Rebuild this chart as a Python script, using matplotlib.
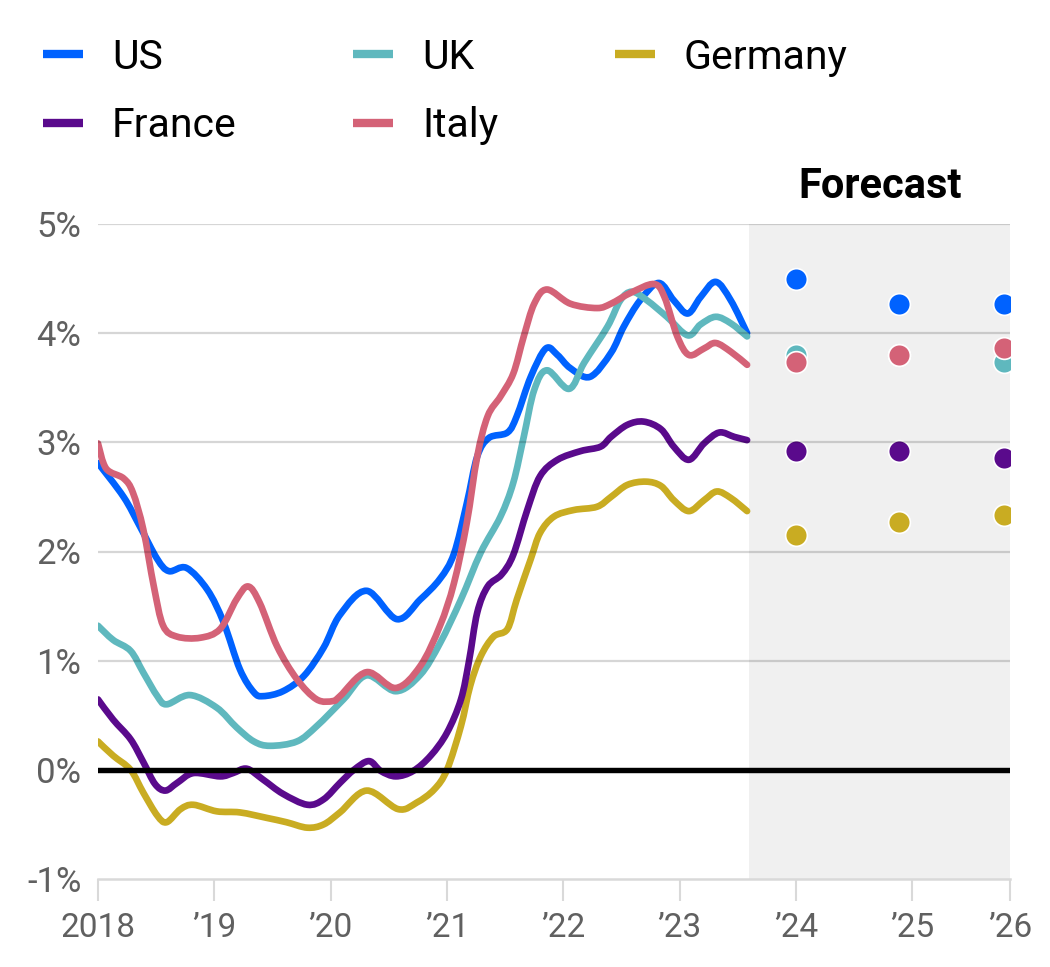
import matplotlib
matplotlib.use("Agg")
import matplotlib.pyplot as plt
from matplotlib.lines import Line2D
from matplotlib.path import Path
from matplotlib.patches import PathPatch

plt.rcParams['font.family'] = ['Roboto', 'DejaVu Sans']

# ---------------- data ----------------
us_dates = [2018.00, 2018.22, 2018.36, 2018.51, 2018.61, 2018.76, 2018.94, 2019.08, 2019.22, 2019.34,
            2019.42, 2019.59, 2019.77, 2019.94, 2020.08, 2020.31, 2020.57, 2020.77, 2020.94, 2021.06,
            2021.17, 2021.26, 2021.36, 2021.52, 2021.60, 2021.72, 2021.85, 2021.95, 2022.06, 2022.23,
            2022.41, 2022.52, 2022.66, 2022.82, 2022.95, 2023.07, 2023.18, 2023.31, 2023.44, 2023.58]
us_vals = [2.81, 2.50, 2.23, 1.93, 1.82, 1.85, 1.65, 1.35, 0.92, 0.71,
           0.675, 0.72, 0.86, 1.12, 1.42, 1.64, 1.38, 1.56, 1.75, 1.98,
           2.44, 2.87, 3.04, 3.09, 3.24, 3.60, 3.86, 3.80, 3.68, 3.60,
           3.82, 4.06, 4.30, 4.46, 4.30, 4.18, 4.33, 4.47, 4.30, 4.00]

uk_dates = [2018.00, 2018.13, 2018.28, 2018.39, 2018.51, 2018.59, 2018.79, 2019.02, 2019.19, 2019.34,
            2019.48, 2019.71, 2019.88, 2020.11, 2020.31, 2020.56, 2020.77, 2020.94, 2021.12, 2021.29,
            2021.46, 2021.57, 2021.66, 2021.75, 2021.86, 2022.05, 2022.18, 2022.38, 2022.49, 2022.59,
            2022.72, 2022.89, 2023.07, 2023.18, 2023.31, 2023.44, 2023.58]
uk_vals = [1.32, 1.19, 1.09, 0.89, 0.675, 0.60, 0.685, 0.57, 0.39, 0.26,
           0.22, 0.26, 0.40, 0.645, 0.865, 0.72, 0.87, 1.16, 1.56, 1.99,
           2.32, 2.63, 3.05, 3.48, 3.66, 3.49, 3.73, 4.06, 4.30, 4.38,
           4.30, 4.15, 3.98, 4.08, 4.15, 4.09, 3.97]

de_dates = [2018.00, 2018.13, 2018.28, 2018.39, 2018.51, 2018.59, 2018.71, 2018.82, 2019.02, 2019.22,
            2019.45, 2019.62, 2019.80, 2019.94, 2020.08, 2020.31, 2020.58, 2020.74, 2020.89, 2021.00,
            2021.12, 2021.20, 2021.29, 2021.40, 2021.52, 2021.60, 2021.72, 2021.80, 2021.92, 2022.09,
            2022.29, 2022.41, 2022.55, 2022.71, 2022.84, 2022.95, 2023.08, 2023.21, 2023.32, 2023.44,
            2023.58]
de_vals = [0.26, 0.13, 0.00, -0.21, -0.42, -0.48, -0.36, -0.32, -0.38, -0.39,
           -0.44, -0.48, -0.53, -0.50, -0.39, -0.19, -0.36, -0.30, -0.18, 0.00,
           0.40, 0.77, 1.04, 1.22, 1.29, 1.56, 1.93, 2.17, 2.32, 2.38,
           2.41, 2.50, 2.61, 2.64, 2.60, 2.47, 2.37, 2.47, 2.55, 2.49,
           2.37]

fr_dates = [2018.00, 2018.13, 2018.28, 2018.39, 2018.49, 2018.58, 2018.68, 2018.82, 2019.05, 2019.16,
            2019.28, 2019.42, 2019.59, 2019.80, 2019.94, 2020.08, 2020.20, 2020.33, 2020.43, 2020.56,
            2020.71, 2020.86, 2021.00, 2021.12, 2021.19, 2021.26, 2021.35, 2021.47, 2021.57, 2021.69,
            2021.80, 2021.95, 2022.15, 2022.32, 2022.41, 2022.55, 2022.69, 2022.84, 2022.95, 2023.08,
            2023.21, 2023.34, 2023.47, 2023.58]
fr_vals = [0.645, 0.46, 0.28, 0.07, -0.13, -0.19, -0.12, -0.03, -0.06, -0.03,
           0.01, -0.09, -0.22, -0.32, -0.27, -0.12, 0.00, 0.08, -0.01, -0.06,
           -0.01, 0.13, 0.34, 0.645, 1.00, 1.44, 1.68, 1.79, 1.97, 2.38,
           2.69, 2.84, 2.92, 2.96, 3.05, 3.16, 3.19, 3.12, 2.96, 2.84,
           2.99, 3.09, 3.05, 3.02]

it_dates = [2018.00, 2018.07, 2018.22, 2018.30, 2018.39, 2018.48, 2018.56, 2018.68, 2018.88, 2019.05,
            2019.19, 2019.29, 2019.39, 2019.54, 2019.71, 2019.88, 2020.02, 2020.08, 2020.31, 2020.56,
            2020.77, 2020.94, 2021.06, 2021.17, 2021.26, 2021.35, 2021.46, 2021.57, 2021.66, 2021.75,
            2021.86, 2022.06, 2022.29, 2022.41, 2022.58, 2022.78, 2022.87, 2022.98, 2023.08, 2023.21,
            2023.31, 2023.44, 2023.58]
it_vals = [2.99, 2.76, 2.67, 2.54, 2.20, 1.68, 1.32, 1.22, 1.21, 1.29,
           1.56, 1.68, 1.53, 1.13, 0.83, 0.645, 0.63, 0.675, 0.895, 0.75,
           0.95, 1.32, 1.71, 2.26, 2.87, 3.24, 3.42, 3.63, 3.97, 4.27,
           4.40, 4.27, 4.23, 4.27, 4.37, 4.45, 4.33, 3.97, 3.80, 3.86,
           3.91, 3.83, 3.71]

# forecasts
fc_dates = [2024.00, 2024.89, 2025.79]
us_fc = [4.50, 4.27, 4.27]
uk_fc = [3.80, 3.80, 3.74]
it_fc = [3.74, 3.80, 3.86]
fr_fc = [2.92, 2.92, 2.86]
de_fc = [2.15, 2.27, 2.33]

forecast_start = 2023.60
x_min, x_max = 2018.0, 2025.84
tick_pos = [2018, 2019, 2020, 2021, 2022, 2023, 2024, 2025, 2025.84]
tick_labels = ["2018", "\u201919", "\u201920", "\u201921", "\u201922", "\u201923", "\u201924", "\u201925", "\u201926"]
y_ticks = [-1, 0, 1, 2, 3, 4, 5]
y_labels = ["-1%", "0%", "1%", "2%", "3%", "4%", "5%"]

# ---------------- style ----------------
C_US = "#0062FF"
C_UK = "#5FB8BE"
C_DE = "#C9AC22"
C_FR = "#5A0A8C"
C_IT = "#D46277"
TXT = "#606060"


def smooth_path(xs, ys):
    """Catmull-Rom curve through the data points, as cubic Bezier path."""
    pts = list(zip(xs, ys))
    n = len(pts)
    verts = [pts[0]]
    codes = [Path.MOVETO]
    for i in range(n - 1):
        p0 = pts[i - 1] if i > 0 else pts[i]
        p1 = pts[i]
        p2 = pts[i + 1]
        p3 = pts[i + 2] if i + 2 < n else pts[i + 1]
        c1 = (p1[0] + (p2[0] - p0[0]) / 6, p1[1] + (p2[1] - p0[1]) / 6)
        c2 = (p2[0] - (p3[0] - p1[0]) / 6, p2[1] - (p3[1] - p1[1]) / 6)
        verts += [c1, c2, p2]
        codes += [Path.CURVE4] * 3
    return Path(verts, codes)


fig = plt.figure(figsize=(10.5, 9.67), dpi=100)
ax = fig.add_axes([98/1050, 88/967, 912/1050, 655/967])

ax.axvspan(forecast_start, x_max, color="#F0F0F0", zorder=0, lw=0)

series = [
    ("US", us_dates, us_vals, us_fc, C_US),
    ("UK", uk_dates, uk_vals, uk_fc, C_UK),
    ("Germany", de_dates, de_vals, de_fc, C_DE),
    ("France", fr_dates, fr_vals, fr_fc, C_FR),
    ("Italy", it_dates, it_vals, it_fc, C_IT),
]
lw = 4.8
for name, d, v, fc, c in series:
    patch = PathPatch(smooth_path(d, v), facecolor="none", edgecolor=c, lw=lw,
                      capstyle="round", joinstyle="round", zorder=3)
    ax.add_patch(patch)
for name, d, v, fc, c in series:
    ax.scatter(fc_dates, fc, s=245, color=c, edgecolor="white", linewidth=1.2, zorder=4)

for yv in y_ticks[2:]:
    ax.axhline(yv, color="black", alpha=0.16, lw=1.6, zorder=5)
ax.axhline(0, color="black", lw=3.9, zorder=6)

ax.set_xlim(x_min, x_max)
ax.set_ylim(-1, 5)
ax.set_xticks(tick_pos)
ax.set_xticklabels(tick_labels)
ax.set_yticks(y_ticks)
ax.set_yticklabels(y_labels)

for s in ["top", "right", "left"]:
    ax.spines[s].set_visible(False)
ax.spines["bottom"].set_color("#D9D9D9")
ax.spines["bottom"].set_linewidth(1.8)
ax.tick_params(axis="x", length=16, width=1.5, color="#D9D9D9", pad=8,
               labelsize=24, labelcolor=TXT)
ax.tick_params(axis="y", length=0, pad=12, labelsize=25, labelcolor=TXT)

ax.text((forecast_start + x_max) / 2, 1.058, "Forecast", transform=ax.get_xaxis_transform(),
        ha="center", va="center", fontsize=30, fontweight="bold", color="black")

handles = [Line2D([], [], color=c, lw=6, solid_capstyle="butt") for _, _, _, _, c in
           [series[0], series[3], series[1], series[4], series[2]]]
labels = ["US", "France", "UK", "Italy", "Germany"]
fig.legend(handles, labels, loc="upper left", bbox_to_anchor=(0.041, 0.961), ncol=3,
           frameon=False, fontsize=29.5, handlelength=0.97, handletextpad=0.71,
           columnspacing=2.85, labelspacing=0.72, borderpad=0, borderaxespad=0)

fig.savefig("out.png", dpi=100)
